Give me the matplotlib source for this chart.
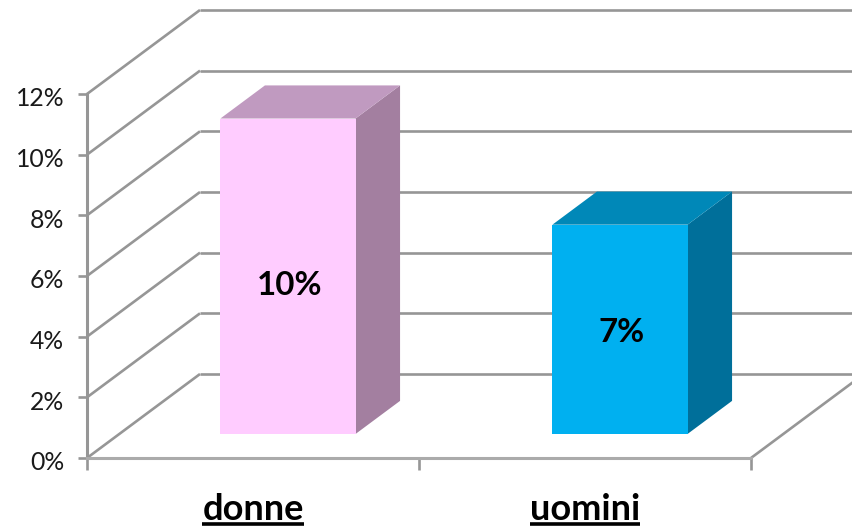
import matplotlib
matplotlib.use("Agg")
import matplotlib.pyplot as plt
from matplotlib.lines import Line2D
from matplotlib.patches import Polygon
from matplotlib.transforms import IdentityTransform, Affine2D

categories = ["donne", "uomini"]
bar_heights = [10.4, 6.9]
bar_labels = ["10%", "7%"]
label_heights = [4.88, 3.35]
y_ticks = [0, 2, 4, 6, 8, 10, 12]
face_colors = ["#FFCCFF", "#00B0F0"]
top_colors = ["#C09AC0", "#0088B8"]
side_colors = ["#A37FA0", "#006F9A"]

W, H = 853, 529
GRID = "#969696"
FLOOR = "#ababab"
FONT = "Lato"

fig = plt.figure(figsize=(W / 100, H / 100), dpi=100, facecolor="white")
ax = fig.add_axes([87 / W, 1 - 458 / H, (751 - 87) / W, (458 - 94) / H])
ax.set_xlim(0, 2)
ax.set_ylim(0, 12)
ax.patch.set_visible(False)

# oblique projection: depth 0 is the front of the box, depth 1 the back wall
DX = 113 / 332
DY = 84 / (364 / 12)


def proj(x, y, d):
    return x + d * DX, y + d * DY


def line(x0, y0, d0, x1, y1, d1, color=GRID, lw=1.9, z=1):
    a, b = proj(x0, y0, d0), proj(x1, y1, d1)
    ax.plot([a[0], b[0]], [a[1], b[1]], color=color, lw=lw, zorder=z,
            clip_on=False, solid_capstyle="butt")


for t in y_ticks:
    line(0, t, 0, 0, t, 1)
    line(0, t, 1, 2.4, t, 1)
line(2, 0, 0, 2, 0, 1)

BAR_W = 0.407
BAR_SHIFT = 0.008
D0, D1 = 0.286, 0.68
for i, h in enumerate(bar_heights):
    c = i + 0.5 + BAR_SHIFT
    x0, x1 = c - BAR_W / 2, c + BAR_W / 2
    front = [proj(x0, 0, D0), proj(x1, 0, D0), proj(x1, h, D0), proj(x0, h, D0)]
    side = [proj(x1, 0, D0), proj(x1, 0, D1), proj(x1, h, D1), proj(x1, h, D0)]
    top = [proj(x0, h, D0), proj(x1, h, D0), proj(x1, h, D1), proj(x0, h, D1)]
    for pts, col in ((side, side_colors[i]), (top, top_colors[i]), (front, face_colors[i])):
        ax.add_patch(Polygon(pts, closed=True, facecolor=col, edgecolor="none",
                             zorder=3, clip_on=False))
    lx, ly = proj(c + 0.004, label_heights[i], D0)
    ax.text(lx, ly, bar_labels[i], ha="center", va="center", fontsize=23.8,
            fontweight="bold", family=FONT, color="black", zorder=4)

for s in ("top", "right"):
    ax.spines[s].set_visible(False)
ax.spines["left"].set_color(GRID)
ax.spines["left"].set_linewidth(2.2)
ax.spines["bottom"].set_color(FLOOR)
ax.spines["bottom"].set_linewidth(2.2)

ax.set_yticks(y_ticks)
ax.set_yticklabels([f"{t}%" for t in y_ticks], fontsize=17.8, family=FONT, color="#1a1a1a")
ax.tick_params(axis="y", length=6.5, width=1.9, color=GRID, pad=10)
for lab in ax.get_yticklabels():
    lab.set_transform(lab.get_transform() + Affine2D().translate(0, -3))

ax.set_xticks([0, 1, 2])
ax.set_xticklabels(["", "", ""])
ax.tick_params(axis="x", which="major", length=8.5, width=1.9, color=GRID)
ax.set_xticks([0.5, 1.5], minor=True)
ax.set_xticklabels(categories, minor=True, fontsize=26, fontweight="bold",
                   family=FONT, color="black")
ax.tick_params(axis="x", which="minor", length=0, pad=25)

fig.canvas.draw()
renderer = fig.canvas.get_renderer()
for lab in ax.get_xticklabels(minor=True):
    bb = lab.get_window_extent(renderer)
    fig.add_artist(Line2D([bb.x0, bb.x1], [H - 524, H - 524], color="black", lw=2.6,
                          transform=IdentityTransform(), solid_capstyle="butt"))

fig.savefig("out.png", dpi=100, facecolor="white")
